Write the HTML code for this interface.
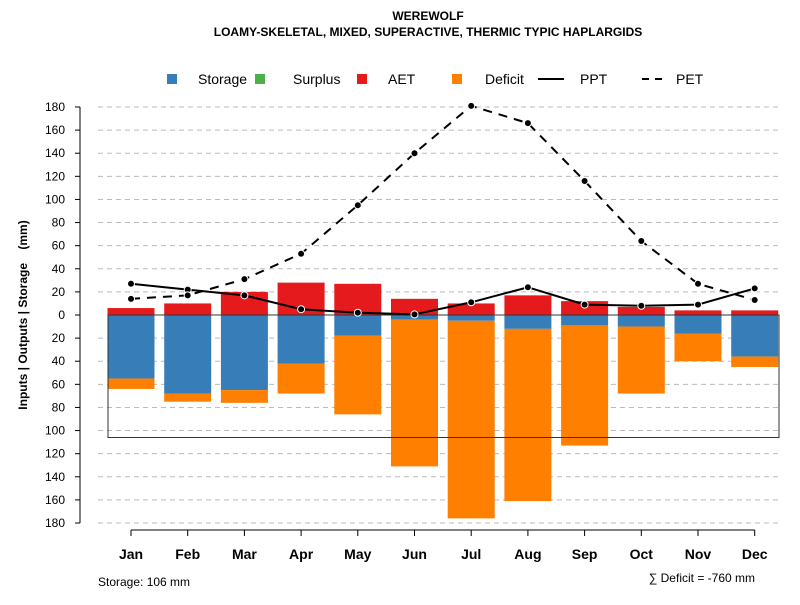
<!DOCTYPE html>
<html><head><meta charset="utf-8"><style>
body{margin:0;background:#fff;}
svg text{font-family:"Liberation Sans",sans-serif;}
</style></head><body>
<svg id="c" width="800" height="600" xmlns="http://www.w3.org/2000/svg">
<text x="428" y="20" text-anchor="middle" font-size="12" font-weight="bold">WEREWOLF</text>
<text x="428" y="36" text-anchor="middle" font-size="12" font-weight="bold">LOAMY-SKELETAL, MIXED, SUPERACTIVE, THERMIC TYPIC HAPLARGIDS</text>
<g font-size="14">
<rect x="167" y="74" width="10" height="10" fill="#377eb8"/>
<text x="198" y="84">Storage</text>
<rect x="255" y="74" width="10" height="10" fill="#4daf4a"/>
<text x="293" y="84">Surplus</text>
<rect x="357" y="74" width="10" height="10" fill="#e41a1c"/>
<text x="388" y="84">AET</text>
<rect x="452" y="74" width="10" height="10" fill="#ff7f00"/>
<text x="485" y="84">Deficit</text>
<line x1="538" y1="79" x2="564" y2="79" stroke="#000" stroke-width="2"/>
<text x="580" y="84">PPT</text>
<line x1="642" y1="79" x2="668" y2="79" stroke="#000" stroke-width="2" stroke-dasharray="7,6"/>
<text x="676" y="84">PET</text>
</g>
<text transform="translate(27,315) rotate(-90)" text-anchor="middle" font-size="12" font-weight="bold">Inputs | Outputs | Storage&#160;&#160;&#160;&#160;(mm)</text>
<text x="98" y="586" font-size="12">Storage: 106 mm</text>
<text x="755" y="582" text-anchor="end" font-size="12">∑ Deficit = -760 mm</text>
<g id="plot"></g>
</svg>
<script>
const months=["Jan","Feb","Mar","Apr","May","Jun","Jul","Aug","Sep","Oct","Nov","Dec"];
const aet=[6,10,20,28,27,14,10,17,12,7,4,4];
const storage=[55,68,65,42,18,4,5,12,9,10,16,36];
const deficit=[9,7,11,26,68,127,171,149,104,58,24,9];
const ppt=[27,22,17,5,2,0.5,11,24,9,8,9,23];
const pet=[14,17,31,53,95,140,181,166,116,64,27,13];
const yTicks=[180,160,140,120,100,80,60,40,20,0,20,40,60,80,100,120,140,160,180];
const storageCap=106;
const NS="http://www.w3.org/2000/svg";
const g=document.getElementById('plot');
const y=v=>315-v*1.1556;
const x=i=>131+i*56.7;
function el(t,a){const e=document.createElementNS(NS,t);for(const k in a)e.setAttribute(k,a[k]);g.appendChild(e);return e;}
yTicks.forEach((t,i)=>{const v=180-i*20;
 if(v!==0){const l=el('line',{x1:98,x2:780,y1:y(v),y2:y(v),stroke:'#bbb','stroke-dasharray':'5,4'});
 
 }
 const tk=el('line',{x1:80,x2:75,y1:y(v),y2:y(v),stroke:'#000'});
 
 
 const tx=el('text',{x:65,y:y(v)+4,'text-anchor':'end','font-size':12});tx.textContent=t;
 
 
});
const ax=el('line',{x1:80,x2:80,y1:y(180),y2:y(-180),stroke:'#000'});


const bx=el('line',{x1:x(0),x2:x(11),y1:530,y2:530,stroke:'#000'});


const w=47;
months.forEach((m,i)=>{
 const a=el('rect',{x:x(i)-w/2,y:y(aet[i]),width:w,height:aet[i]*1.1556,fill:'#e41a1c'});
 
 
 const s=el('rect',{x:x(i)-w/2,y:y(0),width:w,height:storage[i]*1.1556,fill:'#377eb8'});
 
 
 const d=el('rect',{x:x(i)-w/2,y:y(-storage[i]),width:w,height:deficit[i]*1.1556,fill:'#ff7f00'});
 
 
 const tk=el('line',{x1:x(i),x2:x(i),y1:530,y2:536,stroke:'#000'});
 
 
 const t=el('text',{x:x(i),y:559,'text-anchor':'middle','font-size':14,'font-weight':'bold'});t.textContent=m;
 
 
});
const box=el('rect',{x:108,y:y(0),width:671,height:storageCap*1.1556,fill:'none',stroke:'#333','stroke-width':1});


const pp=el('polyline',{points:ppt.map((v,i)=>x(i)+','+y(v)).join(' '),fill:'none',stroke:'#000','stroke-width':2});


const pe=el('polyline',{points:pet.map((v,i)=>x(i)+','+y(v)).join(' '),fill:'none',stroke:'#000','stroke-width':2,'stroke-dasharray':'9,7'});


ppt.forEach((v,i)=>{const c=el('circle',{cx:x(i),cy:y(v),r:3.5,fill:'#000',stroke:'#fff','stroke-width':1});
 
 });
pet.forEach((v,i)=>{const c=el('circle',{cx:x(i),cy:y(v),r:3.5,fill:'#000',stroke:'#fff','stroke-width':1});
 
 });
</script>
</body></html>
